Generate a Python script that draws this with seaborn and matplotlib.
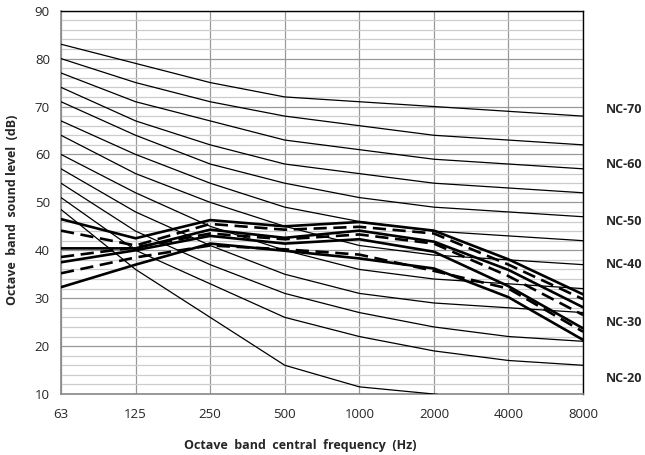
import numpy as np
import pandas as pd
import matplotlib
matplotlib.use("Agg")
import matplotlib.pyplot as plt
import seaborn as sns

# ------------------------------
# Data
# ------------------------------
freq_labels = ["63", "125", "250", "500", "1000", "2000", "4000", "8000"]

nc_names = ["NC-15", "NC-20", "NC-25", "NC-30", "NC-35", "NC-40",
            "NC-45", "NC-50", "NC-55", "NC-60", "NC-65", "NC-70"]
nc_levels = [
    [48.5, 36, 26, 16, 11.5, 10, 8, 7],
    [51, 40, 33, 26, 22, 19, 17, 16],
    [54, 44, 37, 31, 27, 24, 22, 21],
    [57, 48, 41, 35, 31, 29, 28, 27],
    [60, 52, 45, 40, 36, 34, 33, 32],
    [64, 56, 50, 45, 41, 39, 38, 37],
    [67, 60, 54, 49, 46, 44, 43, 42],
    [71, 64, 58, 54, 51, 49, 48, 47],
    [74, 67, 62, 58, 56, 54, 53, 52],
    [77, 71, 67, 63, 61, 59, 58, 57],
    [80, 75, 71, 68, 66, 64, 63, 62],
    [83, 79, 75, 72, 71, 70, 69, 68],
]

# measured spectra (solid and dashed thick lines)
solid_series = [
    [46.5, 42.5, 46.3, 45.0, 45.9, 44.1, 38.1, 30.8],
    [40.4, 40.4, 44.3, 42.6, 44.1, 41.8, 35.9, 28.1],
    [37.5, 40.0, 43.0, 41.4, 42.3, 39.7, 32.5, 23.7],
    [32.3, 37.0, 41.4, 39.9, 38.3, 36.2, 30.2, 21.3],
]
dashed_series = [
    [44.1, 41.0, 45.5, 44.3, 44.9, 43.5, 37.0, 29.8],
    [38.6, 40.6, 43.5, 42.3, 43.3, 41.4, 34.6, 26.5],
    [35.2, 38.5, 41.0, 40.2, 39.1, 35.7, 32.0, 23.0],
]

label_names = ["NC-70", "NC-60", "NC-50", "NC-40", "NC-30", "NC-20"]
label_levels = [69.4, 58.0, 46.0, 37.1, 25.0, 13.3]

# ------------------------------
# Figure
# ------------------------------
sns.set_style("white")
plt.rcParams["font.family"] = ["Open Sans", "DejaVu Sans"]

fig = plt.figure(figsize=(6.45, 4.55), dpi=100)
ax = fig.add_axes([0.0946, 0.134, 0.8094, 0.8425])

pos = np.arange(len(freq_labels))

for vals in nc_levels:
    sns.lineplot(x=pos, y=vals, ax=ax, color="black", lw=0.9, zorder=3)

for vals in solid_series:
    sns.lineplot(x=pos, y=vals, ax=ax, color="black", lw=1.9, zorder=4)

for vals in dashed_series:
    sns.lineplot(x=pos, y=vals, ax=ax, color="black", lw=1.9, zorder=4,
                 dashes=False, linestyle=(0, (5, 2.5)))

ax.set_xlim(0, len(freq_labels) - 1)
ax.set_ylim(10, 90)
ax.set_xticks(pos)
ax.set_xticklabels(freq_labels)
ax.set_yticks(np.arange(10, 91, 10))
ax.set_yticks(np.arange(10, 91, 2), minor=True)

ax.grid(True, which="minor", axis="y", color="#cccccc", lw=0.9, zorder=0)
ax.grid(True, which="major", axis="y", color="#999999", lw=0.9, zorder=1)
ax.grid(True, which="major", axis="x", color="#999999", lw=0.9, zorder=1)
ax.set_axisbelow(True)

ax.tick_params(axis="both", which="major", direction="out", length=4,
               color="#888888", labelsize=9.5, pad=4)
ax.tick_params(axis="y", which="minor", length=0)
ax.tick_params(axis="x", pad=6)

for side in ["left", "bottom"]:
    ax.spines[side].set_color("#888888")
    ax.spines[side].set_linewidth(1.2)
for side in ["top", "right"]:
    ax.spines[side].set_color("black")
    ax.spines[side].set_linewidth(1.0)

ax.set_ylabel("Octave  band  sound level  (dB)", fontsize=9, fontweight="bold")
ax.set_xlabel("Octave  band  central  frequency  (Hz)", fontsize=9, fontweight="bold")
ax.yaxis.set_label_coords(-0.08, 0.48)
ax.xaxis.set_label_coords(0.458, -0.118)

for name, lvl in zip(label_names, label_levels):
    ax.text(len(freq_labels) - 1 + 0.55, lvl, name, ha="center", va="center",
            fontsize=9, fontweight="bold", clip_on=False)

fig.savefig("out.png", dpi=100)
